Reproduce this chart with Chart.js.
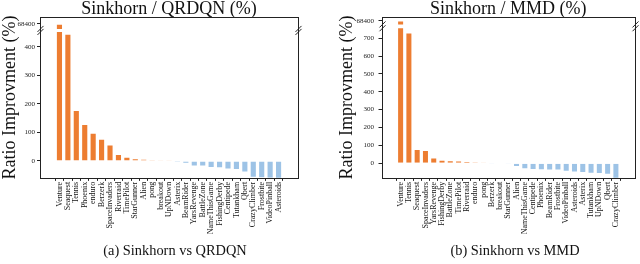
<!DOCTYPE html>
<html><head><meta charset="utf-8">
<script src="https://cdn.jsdelivr.net/npm/chart.js@4.4.1/dist/chart.umd.min.js"></script>
<style>
html,body{margin:0;padding:0;background:#fff;}
#wrap{position:relative;width:640px;height:264px;overflow:hidden;}
canvas{position:absolute;top:0;}
.cap{position:absolute;top:242px;font-family:"Liberation Serif",serif;font-size:14.4px;line-height:16px;color:#111;white-space:nowrap;transform:translateX(-50%);}
</style></head>
<body><div id="wrap">
<canvas id="c1" width="320" height="264" style="left:0"></canvas>
<canvas id="c2" width="320" height="264" style="left:320px"></canvas>
<div class="cap" style="left:175px">(a) Sinkhorn vs QRDQN</div>
<div class="cap" style="left:515px">(b) Sinkhorn vs MMD</div>
</div>
<script>
// ---- data ----
const gamesA = ['Venture','Seaquest','Tennis','Phoenix','enduro','Berzerk','SpaceInvaders','Riverraid','TimePilot','StarGunner','Alien','pong','breakout','UpNDown','Asterix','BeamRider','YarsRevenge','BattleZone','NameThisGame','FishingDerby','Centipede','Tutankham','Qbert','CrazyClimber','Frostbite','VideoPinball','Asteroids'];
const ratioA = [68400,446,178,129,98,77,57,24,14,9,7,4,3,3,-5,-9,-19,-19,-24,-25,-29,-31,-40,-58,-60,-62,-65];
const gamesB = ['Venture','Tennis','Seaquest','SpaceInvaders','YarsRevenge','FishingDerby','BattleZone','TimePilot','Riverraid','enduro','pong','Berzerk','breakout','StarGunner','Alien','NameThisGame','Centipede','Phoenix','BeamRider','Frostbite','VideoPinball','Asteroids','Asterix','Tutankham','UpNDown','Qbert','CrazyClimber'];
const ratioB = [68400,730,79,73,31,18,16,15,12,7,1,-1,-2,-6,-20,-33,-37,-38,-39,-40,-46,-50,-54,-57,-59,-63,-95];
const lowerTicksA = [0,100,200,300,400];
const lowerTicksB = [0,100,200,300,400,500,600,700];
const upperTicks = [68400];
const titleA = 'Sinkhorn / QRDQN (%)';
const titleB = 'Sinkhorn / MMD (%)';
const yLabel = 'Ratio Improvment (%)';

// ---- style ----
const SERIF = '"Liberation Serif", "Times New Roman", serif';
const ORANGE = '#ED7D31';
const BLUE = '#9DC3E6';
const INK = '#222';

const deco = {
  id: 'deco',
  beforeDatasetDraw(chart, args, o) {
    const a = chart.chartArea, t = chart.scales.yTop, b = chart.scales.yBot, ctx = chart.ctx;
    ctx.save(); ctx.beginPath();
    if (args.index === 0) ctx.rect(a.left, t.top, a.right - a.left, t.bottom - o.gapTop - t.top);
    else ctx.rect(a.left, b.top + o.gapBot, a.right - a.left, b.bottom - b.top - o.gapBot);
    ctx.clip();
  },
  afterDatasetDraw(chart) { chart.ctx.restore(); },
  afterDraw(chart, args, o) {
    const a = chart.chartArea, ctx = chart.ctx, B = chart.scales.yBot.top;
    ctx.save(); ctx.strokeStyle = INK; ctx.lineWidth = 1;
    const l = Math.round(a.left) + 0.5, r = Math.round(a.right) + 0.5, t = Math.round(a.top) + 0.5, bt = Math.round(a.bottom) + 0.5;
    ctx.strokeRect(l, t, r - l, bt - t);
    for (const x of [l, r]) for (const y of [B - o.gapTop, B + o.gapBot]) {
      ctx.beginPath(); ctx.moveTo(x - 3, y + 3); ctx.lineTo(x + 3, y - 3); ctx.stroke();
    }
    ctx.restore();
  }
};

function makeChart(id, title, games, values, lowTicks, L) {
  const pts = values.map((v, i) => ({x: i, y: v}));
  const colors = values.map(v => v >= 0 ? ORANGE : BLUE);
  const ds = (axis) => ({data: pts, yAxisID: axis, backgroundColor: colors, borderColor: '#fff', borderWidth: 0.8,
    barPercentage: 0.8, categoryPercentage: 1, grouped: false, clip: false});
  const yTicks = {color: INK, padding: L.tickPad, font: {family: SERIF, size: 7}, callback: v => String(v)};
  const yGrid = {drawOnChartArea: false, drawTicks: true, tickLength: 3, tickColor: INK};
  return new Chart(document.getElementById(id), {
    type: 'bar',
    data: {datasets: [ds('yTop'), ds('yBot')]},
    options: {
      responsive: false, animation: false, events: [],
      layout: {padding: {left: L.padL, right: L.padR, top: 0, bottom: L.padB}},
      plugins: {
        legend: {display: false}, tooltip: {enabled: false},
        title: {display: true, text: title, fullSize: false, color: '#111',
          font: {family: SERIF, size: 18, weight: 'normal', lineHeight: 0.889}, padding: {top: 1, bottom: 0}},
        deco: {gapTop: L.gapTop, gapBot: L.gapBot}
      },
      scales: {
        x: {type: 'linear', min: -1.74, max: 27.74,
          afterBuildTicks: s => { s.ticks = games.map((g, i) => ({value: i})); },
          ticks: {autoSkip: false, maxRotation: 90, minRotation: 90, padding: 1, color: '#111',
            font: {family: SERIF, size: 8}, callback: v => games[v]},
          grid: {drawOnChartArea: false, drawTicks: true, tickLength: 3, tickColor: INK},
          border: {display: false}},
        yT: {type: 'linear', position: 'left', weight: 10, ticks: {display: false},
          grid: {display: false, drawTicks: false}, border: {display: false},
          title: {display: true, text: yLabel, color: '#111', font: {family: SERIF, size: 18, lineHeight: 0.556},
            padding: {top: L.titleP, bottom: 0}}},
        yTop: {type: 'linear', position: 'left', stack: 'brk', stackWeight: L.wTop, weight: 1,
          min: L.topMin, max: L.topMax,
          afterBuildTicks: s => { s.ticks = upperTicks.map(v => ({value: v})); },
          ticks: yTicks, grid: yGrid, border: {display: false}},
        yBot: {type: 'linear', position: 'left', stack: 'brk', stackWeight: L.wBot, weight: 0,
          min: L.botMin, max: L.botMax,
          afterBuildTicks: s => { s.ticks = lowTicks.map(v => ({value: v})); },
          ticks: yTicks, grid: yGrid, border: {display: false}}
      }
    },
    plugins: [deco]
  });
}

makeChart('c1', titleA, gamesA, ratioA, lowerTicksA,
  {padL: 0, padR: 22, padB: 28.7, titleP: 5.5, tickPad: 2, wTop: 13.5, wBot: 148.5,
   topMin: 68000, topMax: 68833, botMin: -59.2, botMax: 458, gapTop: 1.5, gapBot: 1.5});
makeChart('c2', titleB, gamesB, ratioB, lowerTicksB,
  {padL: 16, padR: 5, padB: 28.7, titleP: 6, tickPad: 4.5, wTop: 9.5, wBot: 152.5,
   topMin: 68000, topMax: 68659, botMin: -81.7, botMax: 765.6, gapTop: 2, gapBot: 1.8});
</script>
</body></html>
